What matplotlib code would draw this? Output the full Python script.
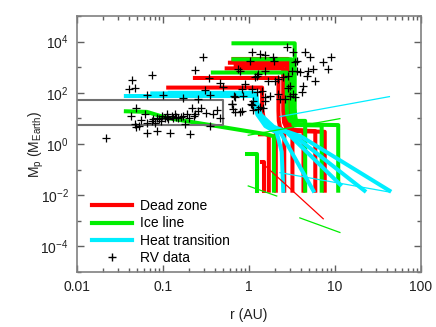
import matplotlib
matplotlib.use('Agg')
import matplotlib.pyplot as plt
from matplotlib.ticker import FixedLocator, LogLocator, NullFormatter, LogFormatterMathtext
from matplotlib.lines import Line2D

plt.rcParams['font.family'] = ['Liberation Sans', 'DejaVu Sans']
plt.rcParams['mathtext.default'] = 'regular'

# evolutionary tracks, r in AU and Mp in Earth masses
dead_zone_r = [
    [1.5, 1.5, 1.42],
    [1.7, 1.7, 1.55, 1.34],
    [2.05, 2.05, 1.7, 1.48, 1.42, 1.42, 0.115],
    [2.57, 2.57, 2.3, 2.22, 2.2, 2.2, 0.235],
    [3.2, 3.2, 2.75, 2.55, 2.5, 2.5, 0.55],
    [4.3, 4.3, 3.0, 2.8, 2.74, 2.74, 0.6],
    [5.9, 5.9, 3.2, 2.95, 2.85, 2.85, 0.66],
    [7.6, 7.6, 3.3, 3.0, 2.9, 2.9, 0.7],
]
dead_zone_m = [
    [0.015, 0.19, 0.19],
    [0.015, 2.2, 2.4, 2.4],
    [0.015, 3.0, 4.5, 10, 25, 160, 160],
    [0.015, 3.2, 4.3, 8, 20, 380, 380],
    [0.015, 3.3, 4.0, 7, 20, 900, 900],
    [0.015, 3.4, 3.6, 6, 20, 1500, 1500],
    [0.015, 3.2, 3.4, 6, 20, 2100, 2100],
    [0.015, 3.0, 3.2, 6, 20, 1200, 1200],
]

ice_line_r = [
    [1.23, 1.23, 0.94],
    [1.95, 1.95, 1.6, 0.11, 0.065, 0.037],
    [4.5, 4.5, 3.0, 2.8, 2.75, 2.75, 0.38],
    [7.0, 7.0, 3.3, 3.15, 3.1, 3.1, 0.66],
    [10.9, 10.9, 3.6, 3.45, 3.4, 3.4, 0.66],
]
ice_line_m = [
    [0.015, 0.42, 0.42],
    [0.015, 2.0, 2.4, 10.5, 18, 19],
    [0.015, 8, 8, 13, 25, 620, 620],
    [0.015, 5.3, 5.5, 11, 25, 2040, 2040],
    [0.015, 5.5, 5.8, 12, 25, 8600, 8600],
]

heat_r = [
    [2.5, 2.4, 2.1, 1.55, 1.25, 1.17, 1.14, 0.037],
    [5.6, 2.3, 1.65, 1.28, 1.19, 1.16, 0.075],
    [11.5, 2.7, 1.75, 1.31, 1.21, 1.18, 0.12],
    [22, 3.2, 1.85, 1.34, 1.23, 1.2, 0.2],
    [43, 4.0, 1.95, 1.37, 1.25, 1.22, 0.4],
]
heat_m = [
    [0.015, 0.5, 2.8, 5.0, 14, 40, 75, 75],
    [0.015, 3.0, 5.0, 14, 40, 95, 95],
    [0.026, 3.0, 5.0, 14, 40, 100, 100],
    [0.015, 2.4, 4.8, 14, 40, 90, 90],
    [0.015, 2.0, 4.6, 14, 40, 85, 85],
]

# thin trap lines
thin_green_r = [[0.98, 11.4], [0.98, 2.1], [3.9, 11.4]]
thin_green_m = [[2.2, 9.8], [0.023, 0.0093], [0.0013, 0.00035]]
thin_red_r = [[1.40, 7.3]]
thin_red_m = [[0.19, 0.0012]]
thin_cyan_r = [[2.29, 42.9], [2.29, 42.9]]
thin_cyan_m = [[11.8, 71], [0.076, 0.0133]]

# gray box
box_r = [0.01, 0.5, 0.5, 0.01]
box_m = [52, 52, 5.3, 5.3]

# RV planets
rv_r = [0.235, 0.044, 0.074, 0.047, 0.040, 0.065, 0.10, 0.172, 0.257, 0.35,
        0.31, 0.46, 0.50, 0.34, 0.675, 0.82, 0.63, 0.82, 0.049, 0.043,
        0.062, 0.047, 0.049, 0.065, 0.077, 0.081, 0.085, 0.097, 0.105, 0.110,
        0.115, 0.126, 0.138, 0.151, 0.172, 0.189, 0.216, 0.235, 0.257, 0.28,
        0.32, 0.385, 0.42, 0.46, 0.18, 0.206, 0.12, 0.085, 0.065, 0.052,
        0.35, 0.022, 0.29, 0.69, 0.79, 1.05, 1.11, 1.47,
        1.07, 1.03, 1.34, 1.54, 1.92, 1.97, 2.74, 3.27, 3.43, 3.57,
        4.48, 5.1, 7.3, 9.1, 8.4, 5.6, 4.9, 5.85, 4.28, 3.57,
        3.14, 2.87, 2.51, 2.19, 2.0, 1.68, 1.54, 1.28, 1.23, 1.18,
        0.785, 0.75, 0.90, 1.07, 1.23, 1.40, 1.54, 1.75, 2.29, 2.19,
        2.62, 3.0, 3.27, 3.43, 4.69, 3.92, 4.1, 0.69, 0.86, 1.12,
        1.54, 1.28, 1.34, 1.07, 0.63, 0.66, 2.87, 3.0, 0.09, 0.11,
        0.13, 0.095, 0.14, 0.075, 0.055, 0.16, 0.2, 0.23]
rv_m = [757, 308, 495, 160, 137, 82, 82, 65, 56, 82,
        125, 250, 169, 392, 75, 137, 38, 19.5, 26, 12.4,
        14.5, 5.9, 4.6, 6.9, 9.2, 6.9, 10.7, 12.4, 10.7, 14.5,
        9.2, 12.4, 14.5, 10.7, 12.4, 14.5, 26, 14.5, 19.5, 26,
        17, 14.5, 22, 10.7, 5.9, 2.4, 2.8, 3.2, 2.8, 5.0,
        5.0, 1.78, 2590, 17.8, 17.8, 35, 22, 26,
        3820, 1810, 3280, 3100, 2440, 1810, 5990, 3820, 1550, 1700,
        3820, 2440, 1550, 2440, 850, 850, 736, 300, 191, 736,
        736, 470, 403, 346, 300, 300, 736, 542, 470, 403,
        736, 850, 221, 141, 105, 122, 67, 78, 57, 90,
        57, 191, 90, 67, 470, 630, 105, 67, 78, 50,
        50, 23, 27, 32, 36.5, 23, 160, 75, 9.5, 11.5,
        10, 8.2, 11, 8, 9, 11.5, 10, 12]

fig = plt.figure(figsize=(4.36, 3.27), dpi=100)
ax = fig.add_axes([0.1766, 0.1682, 0.789, 0.7828])

lw_thick = 2.9
for r, m in zip(dead_zone_r, dead_zone_m):
    ax.plot(r, m, color='#ff0000', lw=lw_thick, solid_joinstyle='round')
for r, m in zip(ice_line_r, ice_line_m):
    ax.plot(r, m, color='#00ee00', lw=lw_thick, solid_joinstyle='round')
for r, m in zip(heat_r, heat_m):
    ax.plot(r, m, color='#00eeff', lw=lw_thick, solid_joinstyle='round')

for r, m in zip(thin_green_r, thin_green_m):
    ax.plot(r, m, color='#00ee00', lw=0.9)
for r, m in zip(thin_red_r, thin_red_m):
    ax.plot(r, m, color='#ff0000', lw=0.9)
for r, m in zip(thin_cyan_r, thin_cyan_m):
    ax.plot(r, m, color='#00eeff', lw=0.9)

ax.plot(box_r, box_m, color='#707070', lw=1.5)

ax.plot(rv_r, rv_m, ls='none', marker='+', color='black', ms=5.5, mew=0.9)

ax.set_xscale('log')
ax.set_yscale('log')
ax.set_xlim(0.01, 100)
ax.set_ylim(1e-5, 1e5)

ax.xaxis.set_major_locator(FixedLocator([0.01, 0.1, 1, 10, 100]))
ax.set_xticklabels(['0.01', '0.1', '1', '10', '100'])
ax.xaxis.set_minor_locator(LogLocator(base=10, subs=range(2, 10), numticks=20))
ax.xaxis.set_minor_formatter(NullFormatter())
ax.yaxis.set_major_locator(FixedLocator([1e-4, 1e-2, 1, 1e2, 1e4]))
ax.yaxis.set_major_formatter(LogFormatterMathtext())
ax.yaxis.set_minor_locator(FixedLocator([1e-5, 1e-3, 1e-1, 10, 1e3, 1e5]))
ax.yaxis.set_minor_formatter(NullFormatter())

for s in ax.spines.values():
    s.set_color('#808080')
    s.set_linewidth(1.2)
ax.tick_params(which='both', direction='in', top=True, right=True, color='#606060',
               labelsize=10, labelcolor='#202020')
ax.tick_params(which='major', length=5, width=1, pad=6)
ax.tick_params(which='minor', length=3, width=1)

ax.set_xlabel('r (AU)', fontsize=10, color='#202020', labelpad=10)
ax.set_ylabel(r'M$_p$ (M$_{Earth}$)', fontsize=10, color='#202020', labelpad=-4)

handles = [
    Line2D([], [], color='#ff0000', lw=3),
    Line2D([], [], color='#00ee00', lw=3),
    Line2D([], [], color='#00eeff', lw=3),
    Line2D([], [], ls='none', marker='+', color='black', ms=6, mew=1),
]
labels = ['Dead zone', 'Ice line', 'Heat transition', 'RV data']
ax.legend(handles, labels, loc='lower left', bbox_to_anchor=(0.015, -0.012), frameon=False,
          fontsize=10, handlelength=2.9, handletextpad=0.6, labelspacing=0.25,
          borderaxespad=0.3)

plt.savefig('out.png', dpi=100)
